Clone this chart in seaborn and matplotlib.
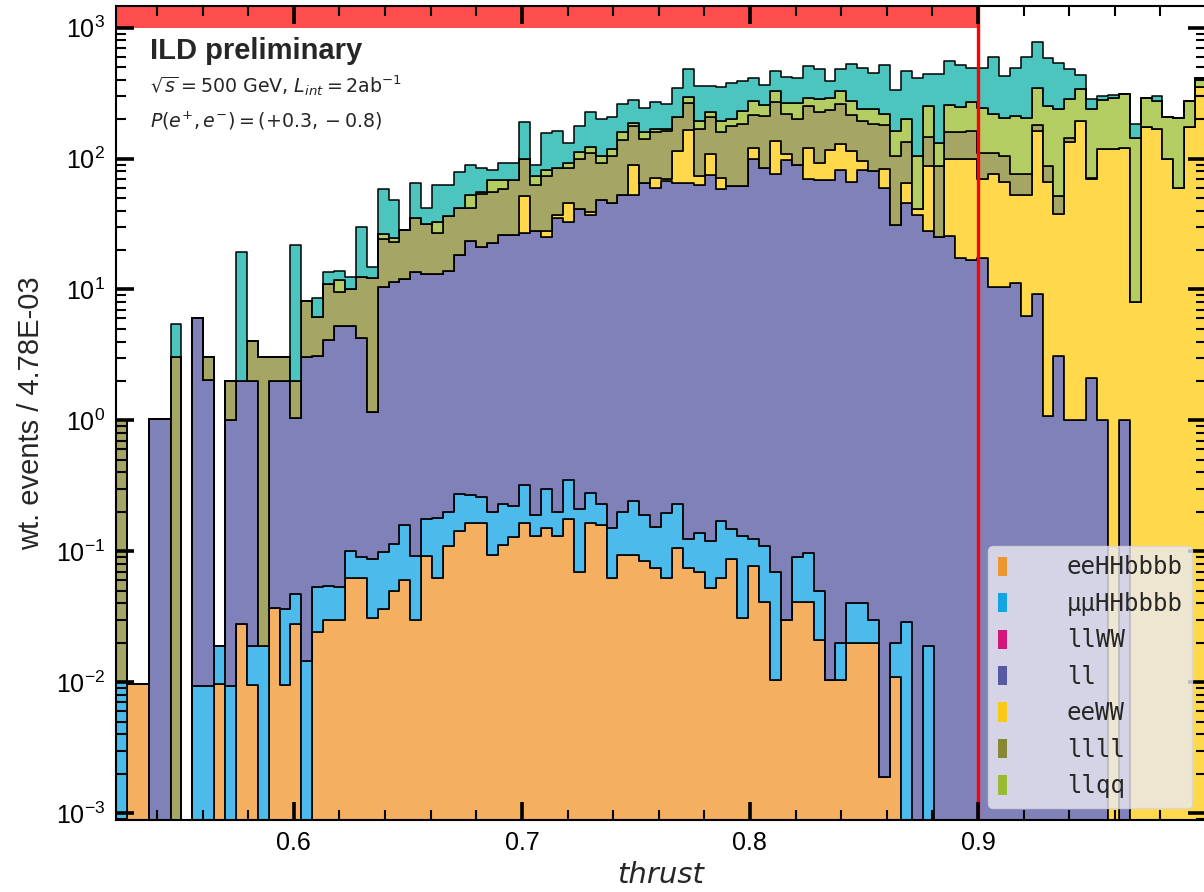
import numpy as np
import pandas as pd
import matplotlib
matplotlib.use("Agg")
import matplotlib.pyplot as plt
import seaborn as sns
from matplotlib.patches import Patch
from matplotlib.ticker import LogLocator, MultipleLocator, FixedLocator, NullFormatter

sns.set_style("ticks")
plt.rcParams['font.family'] = ['Liberation Sans', 'DejaVu Sans']
plt.rcParams['mathtext.fontset'] = 'dejavusans'

# ---------------- data ----------------
x_min, x_max, n_bins = 0.522, 1.0, 100
cut_value = 0.9
band_low = 1000.0
major_xticks = [0.6, 0.7, 0.8, 0.9]

# top of each stacked layer per bin (0 = layer absent in that bin)
top_eehh = [0, 0.0097, 0.0097, 0, 0, 0, 0, 0, 0, 0.0097, 0, 0.028, 0.0095, 0, 0.037, 0.0095, 0.028, 0, 0.024, 0.03,
            0.03, 0.062, 0.063, 0.031, 0.036, 0.05, 0.06, 0.03, 0.092, 0.063, 0.109, 0.144, 0.165, 0.165, 0.093, 0.112, 0.129, 0.165, 0.13, 0.15,
            0.13, 0.176, 0.07, 0.165, 0.158, 0.063, 0.093, 0.093, 0.084, 0.074, 0.063, 0.105, 0.075, 0.069, 0.052, 0.063, 0.088, 0.031, 0.077, 0.041,
            0.0104, 0.03, 0.041, 0.041, 0.021, 0.0104, 0.0104, 0.02, 0.02, 0.02, 0.0019, 0.0109, 0, 0, 0, 0, 0, 0, 0, 0,
            0, 0, 0, 0, 0, 0, 0, 0, 0, 0, 0, 0, 0, 0, 0, 0, 0, 0, 0, 0]
top_mmhh = [0.01, 0, 0, 0, 0, 0, 0, 0.0093, 0.0093, 0.019, 0.0093, 0, 0.019, 0.019, 0, 0.036, 0.047, 0.0144, 0.053, 0.054,
            0.053, 0.1, 0.091, 0.087, 0.098, 0.114, 0.158, 0.092, 0.176, 0.18, 0.2, 0.275, 0.27, 0.26, 0.2, 0.23, 0.22, 0.32, 0.19, 0.3,
            0.2, 0.35, 0.21, 0.28, 0.23, 0.15, 0.2, 0.24, 0.19, 0.154, 0.195, 0.23, 0.125, 0.137, 0.12, 0.17, 0.147, 0.13, 0.125, 0.11,
            0.07, 0, 0.091, 0.097, 0.05, 0, 0.02, 0.04, 0.04, 0.03, 0, 0.02, 0.029, 0, 0.019, 0, 0, 0, 0, 0,
            0, 0, 0, 0, 0, 0, 0, 0, 0, 0, 0, 0, 0, 0, 0, 0, 0, 0, 0, 0]
top_ll = [0, 0, 0, 1.02, 1.02, 0, 0, 6.05, 2.04, 0, 1.0, 2.0, 2.0, 0, 2.0, 2.0, 1.05, 3.07, 3.1, 4.1,
          5.3, 5.3, 4.26, 1.15, 10.5, 11.3, 12.1, 13.5, 13.2, 13.2, 13.9, 18.3, 23.5, 21, 22.6, 26, 26, 27, 27.8, 25,
          35, 33, 41, 37, 48, 46, 52.7, 52.7, 65, 60, 67, 65, 65, 63, 75, 58, 62, 62, 99, 85,
          76, 98, 90, 70, 68, 68, 82, 66, 82, 80, 60, 31, 46, 37, 28, 25, 25.7, 17.5, 16.7, 17.5,
          10.5, 10.5, 11.2, 6.3, 9.3, 1.07, 3.08, 1.0, 1.0, 2.1, 1.0, 0, 1.0, 0, 0, 0, 0, 0, 0, 0]
top_eeww = [0, 0, 0, 0, 0, 0, 0, 0, 0, 0, 0, 0, 0, 0, 0, 0, 0, 0, 0, 0,
            0, 0, 0, 0, 0, 0, 0, 0, 0, 0, 0, 0, 0, 0, 0, 0, 0, 52, 0, 27.8,
            37, 46, 0, 39, 0, 0, 0, 89, 0, 71, 70, 114, 166, 73, 108, 71, 0, 0, 121, 0,
            137, 108, 0, 121, 92, 116, 130, 114, 96, 0, 83, 0, 65, 41, 88, 0, 99, 99, 99, 70,
            76, 66, 52.7, 52.7, 163, 66, 38, 133, 195, 70, 118, 118, 121, 8, 175, 167, 100, 60, 175, 350]
top_llll = [1.0, 0, 0, 0, 0, 3.07, 0, 0, 3.07, 0, 2.0, 0, 4.06, 3.07, 3.07, 3.07, 2.0, 8.2, 6.2, 11,
            9.6, 10, 12.4, 12.3, 24.2, 23, 28.5, 34.9, 31.7, 27, 36.6, 42, 42, 54, 55, 58, 68, 100, 62.5, 73,
            84, 85, 100, 110, 93, 105, 139, 176, 142, 160, 163, 207, 265, 168, 207, 160, 176, 184, 215, 210,
            270, 219, 202, 254, 225, 236, 260, 216, 193, 184, 179, 105, 133, 0, 145, 88, 160, 160, 163, 111,
            111, 104, 76, 76, 180, 88, 52, 143, 0, 71, 0, 0, 0, 0, 0, 0, 0, 0, 0, 0]
top_llqq = [0, 0, 0, 0, 0, 0, 0, 0, 0, 0, 0, 0, 0, 0, 0, 0, 0, 0, 0, 0,
            11.8, 0, 0, 0, 26.5, 24.9, 0, 0, 0, 33, 0, 0, 53, 55, 68, 68, 0, 0, 74, 82,
            0, 93, 112, 123, 105, 118, 160, 188, 160, 168, 168, 0, 297, 195, 225, 193, 202, 232, 276, 257,
            326, 264, 264, 290, 283, 290, 326, 276, 240, 240, 219, 163, 202, 105, 250, 132, 257, 249, 270, 245,
            217, 205, 210, 205, 347, 254, 237, 283, 337, 240, 280, 288, 309, 144, 288, 274, 208, 204, 274, 413]
top_other = [0, 0, 0, 0, 0, 5.4, 0, 0, 0, 0, 0, 19.4, 0, 0, 0, 0, 22, 0, 8.6, 13.7,
             13.9, 12.5, 29.9, 14.8, 59, 48, 0, 65, 42, 63, 63, 79, 90, 85, 82, 92, 92, 189, 90, 158,
             163, 131, 176, 226, 200, 207, 262, 278, 242, 270, 262, 344, 485, 360, 358, 350, 375, 390, 410, 367,
             470, 420, 410, 505, 485, 390, 485, 528, 495, 450, 515, 333, 465, 409, 446, 446, 553, 516, 493, 493,
             598, 426, 493, 598, 773, 587, 532, 484, 438, 283, 300, 306, 0, 182, 0, 300, 0, 0, 0, 0]

labels = ["eeHHbbbb", "μμHHbbbb", "llWW", "ll", "eeWW", "llll", "llqq"]
colors = ["#F28E1C", "#009FE3", "#D4006F", "#4B4C9C", "#FFC800", "#7F8023", "#93B91F"]
other_label, other_color = "other", "#00ADA5"

# ---------------- build weights from the stacked tops ----------------
bin_w = (x_max - x_min) / n_bins
centers = x_min + bin_w * (np.arange(n_bins) + 0.5)
stack = [("eeHHbbbb", top_eehh), ("μμHHbbbb", top_mmhh), ("ll", top_ll),
         ("eeWW", top_eeww), ("llll", top_llll), ("llqq", top_llqq), (other_label, top_other)]
prev = np.zeros(n_bins)
frames = []
for name, top in stack:
    t = np.maximum(prev, np.asarray(top, dtype=float))
    frames.append(pd.DataFrame({"thrust": centers, "w": t - prev, "process": name}))
    prev = t
df = pd.concat(frames, ignore_index=True)

palette = dict(zip(labels, colors))
palette[other_label] = other_color
# seaborn stacks the first hue level on top
hue_order = [other_label, "llqq", "llll", "eeWW", "ll", "μμHHbbbb", "eeHHbbbb"]

# ---------------- figure ----------------
W, H = 1204, 892
fig = plt.figure(figsize=(W / 100, H / 100), dpi=100)
ax = fig.add_axes([116 / W, 72 / H, 1090 / W, 814 / H])
ax.set_yscale("log")

sns.histplot(data=df, x="thrust", weights="w", hue="process", hue_order=hue_order,
             multiple="stack", element="step", bins=n_bins, binrange=(x_min, x_max),
             palette=palette, alpha=0.7, edgecolor="black", linewidth=1.1,
             legend=False, ax=ax, zorder=1)

ylo, yhi = 10 ** -3.053, 10 ** 3.165
ax.set_xlim(x_min, x_max)
ax.set_ylim(ylo, yhi)

# cut region
ax.fill_between([x_min, cut_value], band_low, yhi, color="#FF0000", alpha=0.7, lw=0, zorder=1.5)
ax.axvline(cut_value, color="#FF0000", lw=2.4, zorder=1.8)

# ticks (drawn above the histogram)
ax.set_axisbelow(False)
ax.xaxis.set_major_locator(FixedLocator(major_xticks))
ax.xaxis.set_minor_locator(MultipleLocator(0.02))
ax.yaxis.set_major_locator(LogLocator(base=10, numticks=20))
ax.yaxis.set_minor_locator(LogLocator(base=10, subs=np.arange(2, 10), numticks=20))
ax.yaxis.set_minor_formatter(NullFormatter())
ax.xaxis.set_minor_formatter(NullFormatter())
ax.tick_params(which="both", direction="in", top=True, right=True, colors="black",
               labelsize=18)
ax.tick_params(which="major", length=13, width=2.6, pad=8)
ax.tick_params(which="minor", length=7.5, width=1.5)
for s in ax.spines.values():
    s.set_linewidth(1.5)
    s.set_color("black")
    s.set_zorder(10)

ax.set_xlabel("thrust", fontsize=21, style="italic", family="DejaVu Sans", labelpad=4)
ax.set_ylabel("wt. events / 4.78E-03", fontsize=21, labelpad=8)

# text
fig.text(150 / W, 1 - 59 / H, "ILD preliminary", fontsize=21, fontweight="bold",
         va="baseline", ha="left")
fig.text(150 / W, 1 - 93 / H, r"$\sqrt{s} = 500$ GeV, $L_{int} = 2$ab$^{-1}$",
         fontsize=13.7, family="DejaVu Sans", va="baseline", ha="left")
fig.text(150 / W, 1 - 127 / H, r"$P(e^{+}, e^{-}) = (+0.3, -0.8)$",
         fontsize=13.7, family="DejaVu Sans", va="baseline", ha="left")

# legend
handles = [Patch(facecolor=c, edgecolor="none", alpha=0.9) for c in colors]
leg = fig.legend(handles, labels, loc="lower left", bbox_to_anchor=(988 / W, 1 - 808 / H),
                 bbox_transform=fig.transFigure, borderaxespad=0,
                 prop={"family": "DejaVu Sans Mono", "size": 17.3},
                 handlelength=0.38, handleheight=0.85, handletextpad=2.5,
                 labelspacing=0.52, borderpad=0.4, frameon=True, fancybox=True,
                 framealpha=0.8, facecolor="#EAEAF2", edgecolor="#D5D5DD")
leg.set_zorder(20)

fig.savefig("out.png", dpi=100)
